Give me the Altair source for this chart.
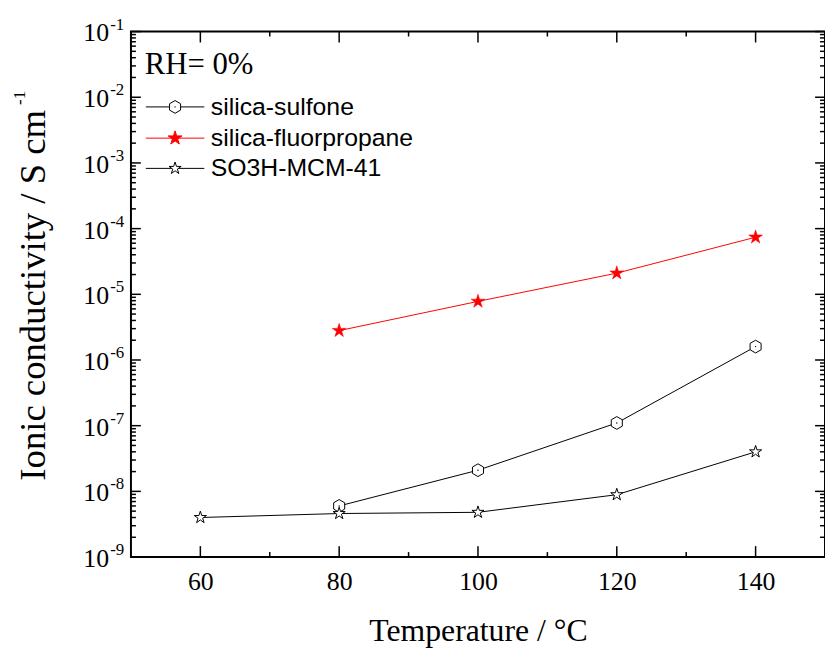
import altair as alt
import pandas as pd

# ---------------- data ----------------
temp_sulfone = [80, 100, 120, 140]
cond_sulfone = [6.0e-9, 2.1e-8, 1.1e-7, 1.6e-6]

temp_fluoro = [80, 100, 120, 140]
cond_fluoro = [2.8e-6, 7.8e-6, 2.1e-5, 7.4e-5]

temp_mcm = [60, 80, 100, 120, 140]
cond_mcm = [4.0e-9, 4.6e-9, 4.8e-9, 8.9e-9, 4.0e-8]

series_names = ["silica-sulfone", "silica-fluorpropane", "SO3H-MCM-41"]
annotation = "RH= 0%"

x_label_values = [60, 80, 100, 120, 140]
x_minor_values = [70, 90, 110, 130]
y_exponents = [-9, -8, -7, -6, -5, -4, -3, -2, -1]
y_minor_mult = [2, 3, 4, 5, 6, 7, 8, 9]

x_title = "Temperature / \u00b0C"
y_title = "Ionic conductivity / S cm"
y_title_sup = "-1"

# ---------------- helpers ----------------
W, H = 700, 530
SERIF = "Liberation Serif"
SANS = "Liberation Sans"

STAR = ("M0,-1 L0.223,-0.307 L0.951,-0.309 L0.361,0.117 L0.588,0.809 "
        "L0,0.38 L-0.588,0.809 L-0.361,0.117 L-0.951,-0.309 L-0.223,-0.307 Z")
HEX = "M0,-1 L0.866,-0.5 L0.866,0.5 L0,1 L-0.866,0.5 L-0.866,-0.5 Z"

xscale = alt.Scale(domain=[50, 150], nice=False, zero=False)
yscale = alt.Scale(type="log", domain=[1e-9, 1e-1], nice=False)

xaxis = alt.Axis(values=x_label_values, ticks=False, tickSize=0, domain=False, grid=False,
                 labelFont=SERIF, labelFontSize=26, labelColor="black", labelPadding=12,
                 title=x_title, titleFont=SERIF, titleFontSize=32, titleFontWeight="normal",
                 titleColor="black", titleY=59, titleBaseline="top")


def X(field):
    return alt.X(field, type="quantitative", scale=xscale, axis=xaxis)


def Y(field):
    return alt.Y(field, type="quantitative", scale=yscale, axis=None)


def series_df(t, c):
    return pd.DataFrame({"T": t, "C": c})


df_s = series_df(temp_sulfone, cond_sulfone)
df_f = series_df(temp_fluoro, cond_fluoro)
df_m = series_df(temp_mcm, cond_mcm)

layers = []

# ---------------- ticks (inward) ----------------
y_major = pd.DataFrame({"v": [10.0 ** e for e in y_exponents]})
y_minor = pd.DataFrame({"v": [m * 10.0 ** e for e in y_exponents[:-1] for m in y_minor_mult]})
x_major = pd.DataFrame({"v": x_label_values})
x_minor = pd.DataFrame({"v": x_minor_values})

for df, ln in [(y_major, 10), (y_minor, 5)]:
    layers.append(alt.Chart(df).mark_rule(color="black", strokeWidth=1.5).encode(
        y=Y("v"), x=alt.value(0), x2=alt.value(ln)))
    layers.append(alt.Chart(df).mark_rule(color="black", strokeWidth=1.5).encode(
        y=Y("v"), x=alt.value(W), x2=alt.value(W - ln)))
for df, ln in [(x_major, 11), (x_minor, 5)]:
    layers.append(alt.Chart(df).mark_rule(color="black", strokeWidth=1.5).encode(
        x=X("v"), y=alt.value(H), y2=alt.value(H - ln)))
    layers.append(alt.Chart(df).mark_rule(color="black", strokeWidth=1.5).encode(
        x=X("v"), y=alt.value(0), y2=alt.value(ln)))

# ---------------- y tick labels (10 with superscript) ----------------
ylab = pd.DataFrame({"v": [10.0 ** e for e in y_exponents],
                     "base": ["10"] * len(y_exponents),
                     "sup": [str(e) for e in y_exponents]})
layers.append(alt.Chart(ylab).mark_text(font=SERIF, fontSize=26, align="right",
                                        baseline="alphabetic", dy=10, color="black").encode(
    y=Y("v"), x=alt.value(-22), text="base:N"))
layers.append(alt.Chart(ylab).mark_text(font=SERIF, fontSize=17, align="left",
                                        baseline="alphabetic", dy=-2, color="black").encode(
    y=Y("v"), x=alt.value(-21), text="sup:N"))

# ---------------- data lines & markers ----------------
layers.append(alt.Chart(df_m).mark_line(color="black", strokeWidth=1).encode(x=X("T"), y=Y("C")))
layers.append(alt.Chart(df_s).mark_line(color="black", strokeWidth=1).encode(x=X("T"), y=Y("C")))
layers.append(alt.Chart(df_f).mark_line(color="#ff0000", strokeWidth=1).encode(x=X("T"), y=Y("C")))

layers.append(alt.Chart(df_s).mark_point(shape=HEX, size=165, filled=True, fill="white",
                                         stroke="black", strokeWidth=1, opacity=1).encode(
    x=X("T"), y=Y("C")))
layers.append(alt.Chart(df_s).mark_point(shape="circle", size=2, filled=True, color="black",
                                         opacity=1).encode(x=X("T"), y=Y("C")))
layers.append(alt.Chart(df_m).mark_point(shape=STAR, size=165, filled=True, fill="white",
                                         stroke="black", strokeWidth=1, opacity=1).encode(
    x=X("T"), y=Y("C")))
layers.append(alt.Chart(df_f).mark_point(shape=STAR, size=215, filled=True, fill="#ff0000",
                                         stroke="#ff0000", strokeWidth=0.5, opacity=1).encode(
    x=X("T"), y=Y("C")))

# ---------------- legend ----------------
one = pd.DataFrame({"a": [0]})
rows_y = [76, 107.5, 138]
styles = [
    dict(shape=HEX, size=165, fill="white", stroke="black", line="black", dot=True),
    dict(shape=STAR, size=215, fill="#ff0000", stroke="#ff0000", line="#ff0000", dot=False),
    dict(shape=STAR, size=165, fill="white", stroke="black", line="black", dot=False),
]
for name, yy, st in zip(series_names, rows_y, styles):
    layers.append(alt.Chart(one).mark_rule(color=st["line"], strokeWidth=1).encode(
        x=alt.value(15), x2=alt.value(74), y=alt.value(yy)))
    layers.append(alt.Chart(one).mark_point(shape=st["shape"], size=st["size"], filled=True,
                                            fill=st["fill"], stroke=st["stroke"], strokeWidth=1,
                                            opacity=1).encode(
        x=alt.value(44.5), y=alt.value(yy)))
    if st["dot"]:
        layers.append(alt.Chart(one).mark_point(shape="circle", size=2, filled=True,
                                                color="black", opacity=1).encode(
            x=alt.value(44.5), y=alt.value(yy)))
    layers.append(alt.Chart(one).mark_text(font=SANS, fontSize=25, align="left",
                                           baseline="middle", color="black").encode(
        x=alt.value(80.5), y=alt.value(yy), text=alt.value(name)))

layers.append(alt.Chart(one).mark_text(font=SERIF, fontSize=31, align="left",
                                       baseline="alphabetic", color="black").encode(
    x=alt.value(14), y=alt.value(43), text=alt.value(annotation)))

# ---------------- y title ----------------
layers.append(alt.Chart(one).mark_text(font=SERIF, fontSize=37, align="center",
                                       baseline="alphabetic", angle=270, color="black").encode(
    x=alt.value(-87), y=alt.value(266), text=alt.value(y_title)))
layers.append(alt.Chart(one).mark_text(font=SERIF, fontSize=17, align="left",
                                       baseline="alphabetic", angle=270, color="black").encode(
    x=alt.value(-107), y=alt.value(74), text=alt.value(y_title_sup)))

chart = alt.layer(*layers).properties(
    width=W, height=H,
    padding={"left": 124, "top": 21, "right": 0, "bottom": 93},
    autosize=alt.AutoSizeParams(type="none"),
    background="white",
).configure_view(stroke="black", strokeWidth=2)

chart.save("out.html", embed_options={"renderer": "svg", "actions": False})
